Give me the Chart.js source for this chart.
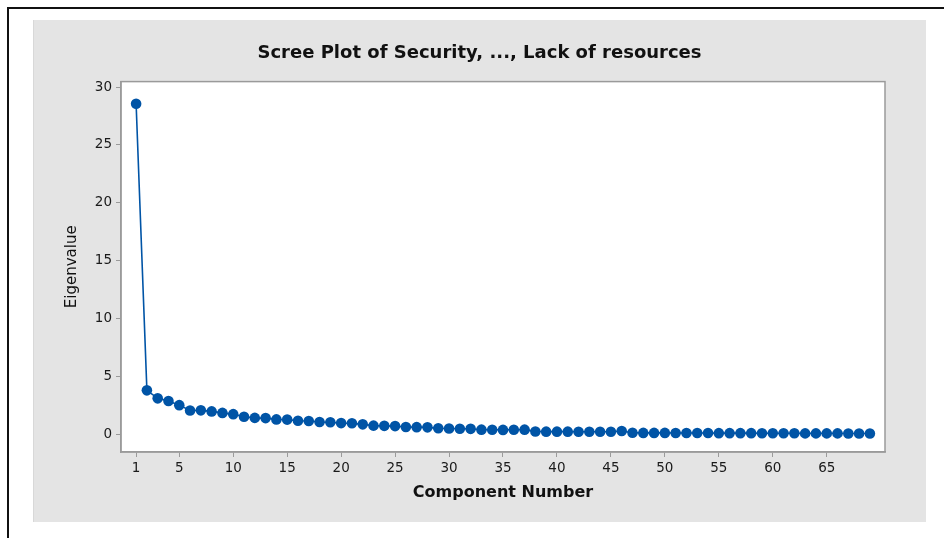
<!DOCTYPE html>
<html lang="en">
<head>
    <meta charset="UTF-8">
    <title>Scree Plot</title>
    <style>
        html, body { margin: 0; padding: 0; background: #fff; }
        #wrap { width: 944px; height: 538px; position: relative; }
    </style>
</head>
<body>
    <div id="wrap"><canvas id="scree"></canvas></div>

    <script src="https://cdn.jsdelivr.net/npm/chart.js"></script>

    <script>
        // component numbers 1..69 and their eigenvalues
        const components = [
            1, 2, 3, 4, 5, 6, 7, 8, 9, 10, 11, 12, 13, 14, 15, 16, 17, 18, 19, 20,
            21, 22, 23, 24, 25, 26, 27, 28, 29, 30, 31, 32, 33, 34, 35, 36, 37, 38, 39, 40,
            41, 42, 43, 44, 45, 46, 47, 48, 49, 50, 51, 52, 53, 54, 55, 56, 57, 58, 59, 60,
            61, 62, 63, 64, 65, 66, 67, 68, 69
        ];
        const eigenvalues = [
            28.55, 3.78, 3.09, 2.86, 2.50, 2.04, 2.05, 1.96, 1.83, 1.72,
            1.50, 1.40, 1.38, 1.27, 1.25, 1.15, 1.13, 1.04, 1.02, 0.95,
            0.93, 0.84, 0.73, 0.71, 0.69, 0.61, 0.60, 0.58, 0.50, 0.48,
            0.46, 0.45, 0.38, 0.37, 0.36, 0.37, 0.38, 0.22, 0.21, 0.21,
            0.21, 0.20, 0.20, 0.20, 0.20, 0.26, 0.11, 0.10, 0.10, 0.10,
            0.09, 0.09, 0.09, 0.09, 0.08, 0.08, 0.08, 0.08, 0.07, 0.07,
            0.07, 0.07, 0.06, 0.06, 0.06, 0.06, 0.05, 0.05, 0.05
        ];
        const xTicks = [1, 5, 10, 15, 20, 25, 30, 35, 40, 45, 50, 55, 60, 65];
        const yTicks = [0, 5, 10, 15, 20, 25, 30];

        const BLUE = '#0054a6';
        const AXIS_GRAY = '#9a9a9a';
        const FONT = 'DejaVu Sans';

        // gray panel, outer black frame and the white plot box
        const backdrop = {
            id: 'backdrop',
            beforeDraw(chart) {
                const c = chart.ctx;
                const a = chart.chartArea;
                c.save();
                c.fillStyle = '#ffffff';
                c.fillRect(0, 0, chart.width, chart.height);
                c.fillStyle = '#e4e4e4';
                c.fillRect(33, 20, 893, 502);
                c.fillStyle = '#d8d8d8';
                c.fillRect(33, 20, 1, 502);
                c.strokeStyle = '#111';
                c.lineWidth = 2;
                c.beginPath();
                c.moveTo(8, chart.height);
                c.lineTo(8, 8);
                c.lineTo(chart.width, 8);
                c.stroke();
                c.fillStyle = '#ffffff';
                c.fillRect(a.left, a.top, a.right - a.left, a.bottom - a.top);
                c.restore();
            },
            afterDatasetsDraw(chart) {
                const c = chart.ctx;
                const a = chart.chartArea;
                c.save();
                c.strokeStyle = AXIS_GRAY;
                c.lineWidth = 1.5;
                c.strokeRect(a.left, a.top, a.right - a.left, a.bottom - a.top);
                c.restore();
            }
        };

        const points = components.map((c, i) => ({ x: c, y: eigenvalues[i] }));

        new Chart(document.getElementById('scree'), {
            type: 'line',
            data: {
                datasets: [{
                    data: points,
                    borderColor: BLUE,
                    backgroundColor: BLUE,
                    borderWidth: 1.6,
                    pointRadius: 5.3,
                    pointBorderWidth: 0,
                    pointBackgroundColor: BLUE,
                    tension: 0
                }]
            },
            options: {
                responsive: true,
                maintainAspectRatio: false,
                animation: false,
                layout: { padding: { left: 33, right: 18, top: 20, bottom: 16 } },
                plugins: {
                    legend: { display: false },
                    tooltip: { enabled: false },
                    title: {
                        display: true,
                        text: 'Scree Plot of Security, ..., Lack of resources',
                        color: '#111',
                        font: { family: FONT, size: 18, weight: 'bold' },
                        padding: { top: 23, bottom: 17 }
                    }
                },
                scales: {
                    x: {
                        type: 'linear',
                        min: -0.4,
                        max: 70.4,
                        afterBuildTicks: s => { s.ticks = xTicks.map(v => ({ value: v })); },
                        afterFit: s => { s.height = 70; },
                        grid: {
                            drawOnChartArea: false,
                            drawTicks: true,
                            tickLength: 5,
                            color: AXIS_GRAY
                        },
                        border: { display: true, color: AXIS_GRAY, width: 1.5 },
                        ticks: {
                            color: '#1a1a1a',
                            font: { family: FONT, size: 13.5 },
                            padding: 3,
                            maxRotation: 0,
                            autoSkip: false
                        },
                        title: {
                            display: true,
                            text: 'Component Number',
                            color: '#111',
                            font: { family: FONT, size: 16, weight: 'bold' },
                            padding: { top: 0, bottom: 20 }
                        }
                    },
                    y: {
                        min: -1.55,
                        max: 30.47,
                        afterBuildTicks: s => { s.ticks = yTicks.map(v => ({ value: v })); },
                        afterFit: s => { s.width = 88; },
                        grid: {
                            drawOnChartArea: false,
                            drawTicks: true,
                            tickLength: 5,
                            color: AXIS_GRAY
                        },
                        border: { display: true, color: AXIS_GRAY, width: 1.5 },
                        ticks: {
                            color: '#1a1a1a',
                            font: { family: FONT, size: 13.5 },
                            padding: 4
                        },
                        title: {
                            display: true,
                            text: 'Eigenvalue',
                            color: '#111',
                            font: { family: FONT, size: 15 },
                            padding: { top: 30, bottom: 0 }
                        }
                    },
                    // empty right-hand axis only reserves the margin between plot box and panel edge
                    yRight: {
                        position: 'right',
                        display: true,
                        afterFit: s => { s.width = 41; },
                        grid: { display: false },
                        border: { display: false },
                        ticks: { display: false }
                    }
                }
            },
            plugins: [backdrop]
        });
    </script>
</body>
</html>
